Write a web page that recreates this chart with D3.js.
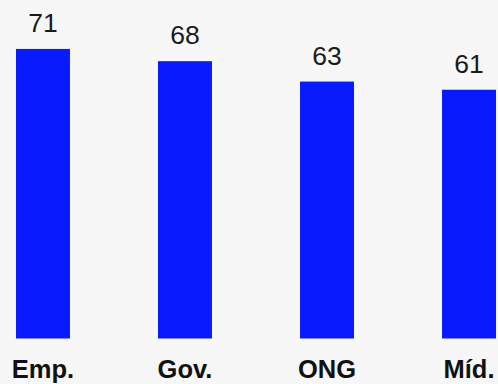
<!DOCTYPE html>
<html>
<head>
<meta charset="utf-8">
<script src="https://cdn.jsdelivr.net/npm/d3@7"></script>
<style>
  html, body { margin: 0; padding: 0; background: #f7f7f7; }
  svg { display: block; }
</style>
</head>
<body>
<svg id="chart"></svg>
<script>
const categories = ['Emp.', 'Gov.', 'ONG', 'Míd.']
const values = [71, 68, 63, 61]

const width = 498
const height = 384

const svg = d3.select('#chart')
    .attr('width', width)
    .attr('height', height)

svg.append('rect')
    .attr('width', width)
    .attr('height', height)
    .attr('fill', '#f7f7f7')

const x = d3.scaleBand()
    .domain(categories)
    .range([16, 496])
    .paddingInner(0.62)
    .paddingOuter(0)

const y = d3.scaleLinear()
    .domain([0, 83])
    .range([338.5, 0])

const data = categories.map((c, i) => ({ cat: c, value: values[i] }))

svg.selectAll('.bar')
    .data(data)
  .enter().append('rect')
    .attr('class', 'bar')
    .attr('x', d => x(d.cat))
    .attr('y', d => y(d.value))
    .attr('width', x.bandwidth())
    .attr('height', d => y(0) - y(d.value))
    .attr('fill', '#0a1aff')

svg.selectAll('.value')
    .data(data)
  .enter().append('text')
    .attr('class', 'value')
    .attr('x', d => x(d.cat) + x.bandwidth() / 2)
    .attr('y', d => y(d.value) - 17)
    .attr('text-anchor', 'middle')
    .attr('font-family', 'Liberation Sans, Arial, sans-serif')
    .attr('font-size', 26.5)
    .attr('fill', '#1a1a1a')
    .text(d => d.value)

// category labels under the bars
const xAxis = d3.axisBottom(x).tickSize(0).tickPadding(0)
const axis = svg.append('g')
    .attr('transform', `translate(0,${y(0)})`)
    .call(xAxis)
axis.select('.domain').remove()
axis.selectAll('text')
    .attr('dy', null)
    .attr('y', 39.5)
    .attr('font-family', 'Liberation Sans, Arial, sans-serif')
    .attr('font-size', 25.5)
    .attr('font-weight', 'bold')
    .attr('fill', '#111')
</script>
</body>
</html>
